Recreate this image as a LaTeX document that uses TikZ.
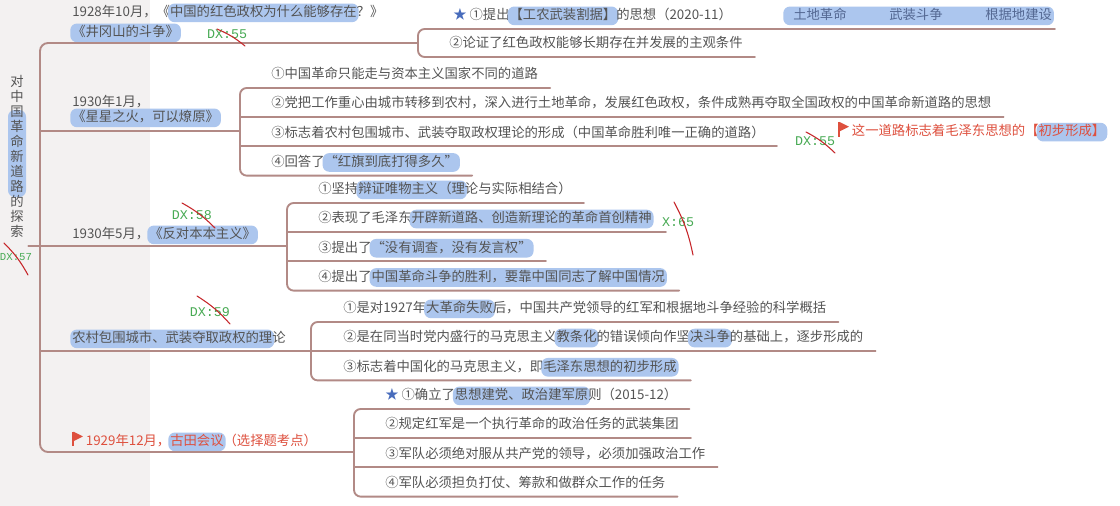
\documentclass[tikz,border=0pt]{standalone}
\usepackage{fontspec}
\newfontfamily\cjk{Noto Sans CJK SC}
\setmonofont{Liberation Mono}
\usetikzlibrary{positioning}
\definecolor{lncol}{RGB}{178,138,134}
\definecolor{txt}{RGB}{84,84,84}
\definecolor{hlblue}{RGB}{172,198,238}
\definecolor{flagred}{RGB}{222,80,62}
\definecolor{dxgreen}{RGB}{72,170,84}
\definecolor{slashred}{RGB}{198,38,42}
\definecolor{starblue}{RGB}{72,108,188}
\definecolor{kw}{RGB}{84,104,146}
\definecolor{band}{RGB}{243,241,241}
\tikzset{hlbox/.style={fill=hlblue, rounded corners=5pt, inner xsep=1.5pt, inner ysep=2.3pt, outer sep=0pt, anchor=base, text height=7.6pt, text depth=1.8pt}}
\newcommand\hlt[1]{\hspace{-1.5pt}\tikz[baseline=(h.base)]\node[hlbox] (h) {#1};\hspace{-1.5pt}}
\newcommand\flagico{\tikz[baseline=-1pt]{\fill[flagred] (0pt,-1.5pt) rectangle (1.1pt,9.5pt); \fill[flagred] (1.1pt,9.5pt) -- (8pt,6pt) -- (1.1pt,2.5pt) -- cycle;}}
\begin{document}
\begin{tikzpicture}[x=0.75pt, y=-0.75pt,
  ln/.style={draw=lncol, line width=1.4pt, line cap=round},
  leaf/.style={anchor=south west, inner sep=0pt, text height=14.75pt, text depth=6.75pt, font=\cjk\fontsize{10}{11.25}\selectfont, text=txt},
  br/.style={anchor=south west, inner sep=0pt, text depth=0pt, align=left, font=\cjk\fontsize{10}{11.25}\selectfont, text=txt},
  root/.style={align=center, inner sep=3.3pt, font=\cjk\fontsize{10}{11.25}\selectfont, text=txt},
  dx/.style={inner sep=0pt, font=\ttfamily\fontsize{10}{12}\selectfont, text=dxgreen},
  slash/.style={draw=slashred, line width=0.8pt, line cap=round}]
\useasboundingbox (0,0) rectangle (1120,506);
\fill[white] (0,0) rectangle (1120,506);
\fill[band] (0,0) rectangle (150,506);

\fill[hlblue, rounded corners=5pt] (8,110) rectangle (26,197);
\node[root] (root) at (17,156) {对\\中\\国\\革\\命\\新\\道\\路\\的\\探\\索};
\coordinate (sp) at (40,246);
\coordinate (k1) at (418,43);
\coordinate (k2) at (240,131);
\coordinate (k3) at (287,246);
\coordinate (k4) at (311,351);
\coordinate (k5) at (354,452);

\node[br] (b1) at (72,37) {1928年10月，《\hlt{中国的红色政权为什么能够存在}？》\\\hlt{《井冈山的斗争》}};
\node[br] (b2) at (72,122) {1930年1月，\\\hlt{《星星之火，可以燎原》}};
\node[br] (b3) at (72,239) {1930年5月，\hlt{《反对本本主义》}};
\node[br] (b4) at (72,343) {\hlt{农村包围城市、武装夺取政权的理}论};
\node[br, text=flagred] (b5) at (72,446) {\flagico\ 1929年12月，\hlt{古田会议}（选择题考点）};

\node[leaf] (l11) at (453,29) {{\color{starblue}★} ①提出\hlt{【工农武装割据】}的思想（2020-11）\hspace{40pt}{\color{kw}\hlt{\hspace{6pt}土地革命\hspace{32pt}武装斗争\hspace{32pt}根据地建设\hspace{10pt}}}};
\node[leaf] (l12) at (449,57) {②论证了红色政权能够长期存在并发展的主观条件};

\node[leaf] (l21) at (271,88) {①中国革命只能走与资本主义国家不同的道路};
\node[leaf, below right=0pt of l21.south west] (l22) {②党把工作重心由城市转移到农村，深入进行土地革命，发展红色政权，条件成熟再夺取全国政权的中国革命新道路的思想};
\node[leaf, below right=0pt of l22.south west] (l23) {③标志着农村包围城市、武装夺取政权理论的形成（中国革命胜利唯一正确的道路）};
\node[leaf, below right=0pt of l23.south west] (l24) {④回答了\hlt{“红旗到底打得多久”}};
\node[br, text=flagred, anchor=base west] (nt) at (838,136) {\flagico\ 这一道路标志着毛泽东思想的【\hlt{初步形成】}};

\node[leaf] (l31) at (318,203) {①坚持\hlt{辩证唯物主义（理}论与实际相结合）};
\node[leaf, below right=0pt of l31.south west] (l32) {②表现了毛泽东\hlt{开辟新道路、创造新理论的革命首创精神}};
\node[leaf, below right=0pt of l32.south west] (l33) {③提出了\hlt{“没有调查，没有发言权”}};
\node[leaf, below right=0pt of l33.south west] (l34) {④提出了\hlt{中国革命斗争的胜利，要靠中国同志了解中国情况}};

\node[leaf] (l41) at (343,322) {①是对1927年\hlt{大革命失败}后，中国共产党领导的红军和根据地斗争经验的科学概括};
\node[leaf, below right=0pt of l41.south west] (l42) {②是在同当时党内盛行的马克思主义\hlt{教条化}的错误倾向作坚\hlt{决斗争}的基础上，逐步形成的};
\node[leaf, below right=0pt of l42.south west] (l43) {③标志着中国化的马克思主义，即\hlt{毛泽东思想的初步形成}};

\node[leaf] (l51) at (385,409) {{\color{starblue}★} ①确立了\hlt{思想建党、政治建军原}则（2015-12）};
\node[leaf, below right=0pt of l51.south west] (l52) {②规定红军是一个执行革命的政治任务的武装集团};
\node[leaf, below right=0pt of l52.south west] (l53) {③军队必须绝对服从共产党的领导，必须加强政治工作};
\node[leaf, below right=0pt of l53.south west] (l54) {④军队必须担负打仗、筹款和做群众工作的任务};

\draw[ln] (root.east |- sp) -- (sp);
\draw[ln, rounded corners=6pt] (k1) -- (k1 -| sp) -- (k5 -| sp) -- (k5);
\foreach \k in {k2,k3,k4} \draw[ln] (\k -| sp) -- (\k);
\draw[ln, rounded corners=5pt] ([xshift=2pt]l11.south east) -- (l11.south west -| k1) -- (l12.south west -| k1) -- ([xshift=9pt]l12.south east);
\draw[ln, rounded corners=5pt] ([xshift=9pt]l21.south east) -- (l21.south west -| k2) -- (l24.south west -| k2) -- ([xshift=9pt]l24.south east);
\draw[ln, rounded corners=5pt] ([xshift=9pt]l31.south east) -- (l31.south west -| k3) -- (l34.south west -| k3) -- ([xshift=9pt]l34.south east);
\draw[ln, rounded corners=5pt] ([xshift=9pt]l41.south east) -- (l41.south west -| k4) -- (l43.south west -| k4) -- ([xshift=9pt]l43.south east);
\draw[ln, rounded corners=5pt] ([xshift=9pt]l51.south east) -- (l51.south west -| k5) -- (l54.south west -| k5) -- ([xshift=9pt]l54.south east);
\foreach \n/\k in {l22/k2,l23/k2,l32/k3,l33/k3,l42/k4,l52/k5,l53/k5} \draw[ln] (\n.south west -| \k) -- ([xshift=9pt]\n.south east);

\node[dx] (dx1) at (227,34) {DX:55};
\node[dx] (dx2) at (815,141) {DX:55};
\node[dx] (dx3) at (192,215) {DX:58};
\node[dx] (dx4) at (210,312) {DX:59};
\node[dx, font=\ttfamily\fontsize{8}{10}\selectfont] (dx5) at (16,257) {DX:57};
\node[dx] (dx6) at (678,222) {X:65};
\draw[slash] ([shift={(-10,-5)}]dx1.center) to[bend left=8] ([shift={(18,12)}]dx1.center);
\draw[slash] ([shift={(-9,-9)}]dx2.center) to[bend left=8] ([shift={(20,12)}]dx2.center);
\draw[slash] ([shift={(-10,-12)}]dx3.center) to[bend left=8] ([shift={(23,13)}]dx3.center);
\draw[slash] ([shift={(-13,-16)}]dx4.center) to[bend left=8] ([shift={(20,12)}]dx4.center);
\draw[slash] ([shift={(-12,-14)}]dx5.center) to[bend left=8] ([shift={(12,18)}]dx5.center);
\draw[slash] ([shift={(-4,-20)}]dx6.center) to[bend left=8] ([shift={(15,33)}]dx6.center);
\end{tikzpicture}
\end{document}
